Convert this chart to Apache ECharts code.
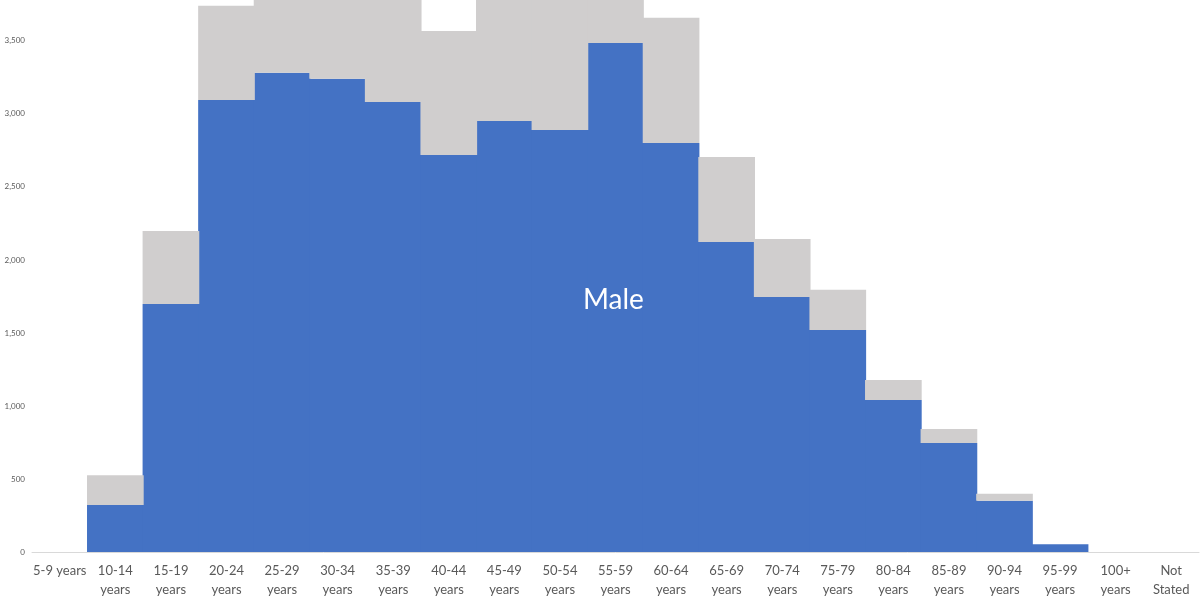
<!DOCTYPE html>
<html>
<head>
<meta charset="utf-8">
<script src="https://cdn.jsdelivr.net/npm/echarts@6/dist/echarts.min.js"></script>
<style>html,body{margin:0;padding:0;background:#fff}#c{width:1200px;height:600px}</style>
</head>
<body>
<div id="c"></div>
<script>
const categories = ['5-9 years','10-14 years','15-19 years','20-24 years','25-29 years','30-34 years','35-39 years','40-44 years','45-49 years','50-54 years','55-59 years','60-64 years','65-69 years','70-74 years','75-79 years','80-84 years','85-89 years','90-94 years','95-99 years','100+ years','Not Stated'];
const male   = [0, 322, 1699, 3096, 3281, 3240, 3082, 2719, 2952, 2890, 3486, 2801, 2123, 1747, 1521, 1041, 747, 351, 53, 0, 0];
const female = [0, 203, 500, 644, 650, 700, 800, 849, 900, 950, 400, 857, 582, 397, 274, 137, 95, 48, 0, 0, 0];
const yTicks = [0, 500, 1000, 1500, 2000, 2500, 3000, 3500];

const chart = echarts.init(document.getElementById('c'));
chart.setOption({
  animation: false,
  grid: {left: 32, right: 1, top: 0, bottom: 48, containLabel: false},
  xAxis: {
    type: 'category',
    data: categories,
    axisLine: {lineStyle: {color: '#d9d9d9', width: 1}},
    axisTick: {show: false},
    axisLabel: {
      interval: 0, margin: 9, color: '#595959', fontFamily: 'Lato', fontSize: 13, lineHeight: 19,
      formatter: v => v === '5-9 years' ? v : v.replace(' ', '\n')
    }
  },
  yAxis: {
    type: 'value', min: 0, max: 3780, interval: 500,
    splitLine: {show: false}, axisLine: {show: false}, axisTick: {show: false},
    axisLabel: {
      showMaxLabel: false, margin: 7, color: '#595959', fontFamily: 'Lato', fontSize: 8,
      formatter: v => yTicks.includes(v) ? v.toLocaleString('en-US') : ''
    }
  },
  series: [
    {name: 'Male', type: 'bar', stack: 's', data: male, barWidth: '102%',
     itemStyle: {color: '#4472c4'}},
    {name: 'Female', type: 'bar', stack: 's', data: female, barWidth: '102%',
     itemStyle: {color: '#d0cece'}}
  ],
  graphic: [{
    type: 'text', left: 583, top: 286, z: 100, zlevel: 1,
    style: {text: 'Male', fill: '#ffffff', fontSize: 28, fontFamily: 'Lato'}
  }]
});
</script>
</body>
</html>
